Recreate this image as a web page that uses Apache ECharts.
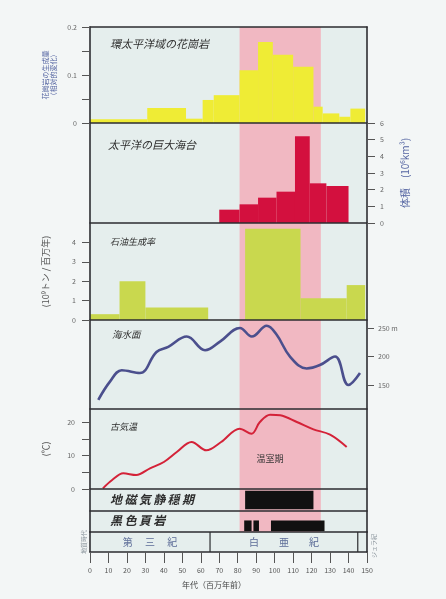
<!DOCTYPE html>
<html>
<head>
<meta charset="utf-8">
<script src="https://cdn.jsdelivr.net/npm/echarts@6/dist/echarts.min.js"></script>
<style>
  html, body { margin: 0; padding: 0; background: #f3f6f6; }
  #chart { width: 446px; height: 599px; }
</style>
</head>
<body>
<div id="chart"></div>
<script>
// ---- age axis (million years ago) ----
const ageMin = 0;
const ageMax = 150;
const ageStep = 10;

// greenhouse (warm) period
const warmStart = 81;
const warmEnd = 125;
const warmLabel = '温室期';

// circum-Pacific granite production (histogram)
const graniteStart = [0, 31, 52, 61, 67, 81, 91, 99, 110, 121, 126, 135, 141];
const graniteEnd   = [31, 52, 61, 67, 81, 91, 99, 110, 121, 126, 135, 141, 149];
const graniteValue = [0.008, 0.031, 0.009, 0.048, 0.058, 0.110, 0.169, 0.142, 0.117, 0.034, 0.020, 0.013, 0.030];

// Pacific oceanic plateaus, volume (10^6 km3)
const plateauStart = [70, 81, 91, 101, 111, 119, 128];
const plateauEnd   = [81, 91, 101, 111, 119, 128, 140];
const plateauValue = [0.8, 1.12, 1.52, 1.88, 5.2, 2.38, 2.22];

// oil generation rate (10^9 t / Myr)
const oilStart = [0, 16, 30, 84, 114, 139];
const oilEnd   = [16, 30, 64, 114, 139, 149];
const oilValue = [0.3, 2.0, 0.65, 4.7, 1.12, 1.8];

// sea level (m)
const seaAge   = [4.5, 10.8, 17.2, 27, 36, 42.4, 52.4, 62.3, 70.4, 81.2, 87.6, 95.7, 101.1, 108.3, 117.3, 124.5, 132.7, 139.9, 146.2];
const seaLevel = [124, 156, 176, 171, 208, 217, 235, 211, 226, 250, 235, 254, 238, 200, 179, 185, 200, 150, 171];

// paleotemperature (deg C)
const tempAge   = [7, 12, 18, 25, 32.5, 40, 47, 55, 63, 71, 81, 87.5, 92, 97.5, 103, 112, 121, 130, 139];
const tempValue = [0.2, 2.7, 4.7, 4.2, 6.2, 8.1, 11.1, 14.1, 11.6, 14.1, 18.1, 16.6, 20.1, 22.3, 22.1, 20.1, 17.9, 16.3, 12.6];

// magnetic quiet zone
const quietStart = [84];
const quietEnd   = [121];

// black shale occurrences
const shaleStart = [83.5, 88.5, 98];
const shaleEnd   = [87.5, 91.5, 127];

// geologic periods
const periodNames = ['第　 三　 紀', '白　　亜　　紀'];
const periodStart = [0, 65];
const periodEnd   = [65, 145];

// axis tick values
const graniteTicks = [0, 0.05, 0.1, 0.15, 0.2];
const graniteLabels = [0, 0.1, 0.2];
const plateauTicks = [0, 1, 2, 3, 4, 5, 6];
const oilTicks = [0, 1, 2, 3, 4];
const seaTicks = [150, 200, 250];
const tempTicks = [0, 5, 10, 15, 20];
const tempLabels = [0, 10, 20];

// ---- styling ----
const FONT = '"Noto Sans CJK JP", "Noto Sans", sans-serif';
const FRAME = '#2c2d31';
const PANEL_BG = '#e5eeed';
const BAND = '#f1b8c2';
const LABEL = '#666';
const BLUE = '#5565a2';

const chart = echarts.init(document.getElementById('chart'));

function zip3(a, b, c) { return a.map((v, i) => [v, b[i], c[i]]); }
function zip2(a, b) { return a.map((v, i) => [v, b[i]]); }

function histRender(color) {
  return function (params, api) {
    const p0 = api.coord([api.value(0), api.value(2)]);
    const p1 = api.coord([api.value(1), 0]);
    return { type: 'rect', shape: { x: p0[0], y: p0[1], width: p1[0] - p0[0], height: p1[1] - p0[1] }, style: { fill: color } };
  };
}
function spanRender(color, y0, y1) {
  return function (params, api) {
    const p0 = api.coord([api.value(0), y1]);
    const p1 = api.coord([api.value(1), y0]);
    return { type: 'rect', shape: { x: p0[0], y: p0[1], width: p1[0] - p0[0], height: p1[1] - p0[1] }, style: { fill: color } };
  };
}

const gridBase = { left: 90, right: 79, outerBoundsMode: 'none', containLabel: false };
function panelGrid(top, height) {
  return Object.assign({}, gridBase, { top, height, show: true, backgroundColor: PANEL_BG, borderWidth: 0 });
}

const grids = [
  Object.assign({}, gridBase, { top: 27, height: 505, show: false }), // band + outer frame
  panelGrid(27, 96),   // granite
  panelGrid(123, 100), // plateaus
  panelGrid(223, 97),  // oil
  panelGrid(320, 89),  // sea level
  panelGrid(409, 80),  // temperature
  panelGrid(489, 22),  // magnetic quiet zone
  panelGrid(511, 21),  // black shale
  panelGrid(532, 20)   // geologic periods
];

const frameLine = { show: true, onZero: false, lineStyle: { color: FRAME, width: 1.6 } };
const noLine = { show: false, onZero: false };

function xAx(gridIndex, extra) {
  return Object.assign({
    type: 'value', gridIndex, min: ageMin, max: ageMax, interval: ageStep, z: 5,
    axisLine: frameLine, axisTick: { show: false }, axisLabel: { show: false }, splitLine: { show: false }
  }, extra || {});
}

function yAx(gridIndex, extra) {
  return Object.assign({
    type: 'value', gridIndex, z: 5,
    axisLine: noLine,
    axisTick: { show: false }, axisLabel: { show: false }, splitLine: { show: false },
    nameMoveOverlap: false
  }, extra || {});
}

const tickStyle = { color: '#555', width: 1 };

const xAxes = [
  xAx(0, { position: 'top' }),
  xAx(1), xAx(2), xAx(3), xAx(4), xAx(5), xAx(6), xAx(7),
  xAx(8, {
    axisTick: { show: true, length: 11, lineStyle: { color: '#555', width: 1 } },
    axisLabel: { show: true, fontSize: 7, color: '#555', margin: 15 }
  })
];

const yAxes = [
  yAx(0, { min: 0, max: 1, position: 'left', axisLine: frameLine }),
  yAx(0, { min: 0, max: 1, position: 'right', axisLine: frameLine }),
  // granite
  yAx(1, {
    min: 0, max: 0.2, position: 'left',
    axisTick: { show: true, length: 8, lineStyle: tickStyle, customValues: graniteTicks },
    axisLabel: { show: true, fontSize: 7, color: LABEL, margin: 13, customValues: graniteLabels,
      formatter: v => (v === 0 ? '0' : v.toFixed(1)) },
    name: '花崗岩の生成量\n（相対的変化）', nameLocation: 'middle', nameRotate: 90, nameGap: 33,
    nameTextStyle: { color: BLUE, fontSize: 7, lineHeight: 8 }
  }),
  // plateaus
  yAx(2, {
    min: 0, max: 6, position: 'right',
    axisTick: { show: true, length: 8, lineStyle: tickStyle, customValues: plateauTicks },
    axisLabel: { show: true, fontSize: 7, color: LABEL, margin: 13, customValues: plateauTicks },
    name: '体積　(10⁶km³)', nameLocation: 'middle', nameRotate: 90, nameGap: 33,
    nameTextStyle: { color: BLUE, fontSize: 10 }
  }),
  // oil
  yAx(3, {
    min: 0, max: 5, position: 'left',
    axisTick: { show: true, length: 8, lineStyle: tickStyle, customValues: oilTicks },
    axisLabel: { show: true, fontSize: 7, color: LABEL, margin: 14, customValues: oilTicks },
    name: '(10⁹トン / 百万年)', nameLocation: 'middle', nameRotate: 90, nameGap: 40,
    nameTextStyle: { color: '#555', fontSize: 9 }
  }),
  // sea level
  yAx(4, {
    min: 108, max: 264, position: 'right',
    axisTick: { show: true, length: 7, lineStyle: tickStyle, customValues: seaTicks },
    axisLabel: { show: true, fontSize: 7, color: LABEL, margin: 11, customValues: seaTicks,
      formatter: v => (v === 250 ? '250 m' : String(v)) }
  }),
  // temperature
  yAx(5, {
    min: 0, max: 24, position: 'left',
    axisTick: { show: true, length: 8, lineStyle: tickStyle, customValues: tempTicks },
    axisLabel: { show: true, fontSize: 7, color: LABEL, margin: 15, customValues: tempLabels },
    name: '(℃)', nameLocation: 'middle', nameRotate: 90, nameGap: 40,
    nameTextStyle: { color: '#555', fontSize: 9 }
  }),
  yAx(6, { min: 0, max: 1, show: false }),
  yAx(7, { min: 0, max: 1, show: false }),
  yAx(8, { min: 0, max: 1, position: 'left', axisLine: frameLine }),
  yAx(8, { min: 0, max: 1, position: 'right', axisLine: frameLine })
];

const series = [
  { // greenhouse band
    type: 'custom', xAxisIndex: 0, yAxisIndex: 0, z: 1, silent: true,
    data: [[warmStart, warmEnd]],
    renderItem: spanRender(BAND, 0, 1)
  },
  {
    type: 'custom', name: '花崗岩', xAxisIndex: 1, yAxisIndex: 2, z: 2,
    encode: { x: [0, 1], y: 2 },
    data: zip3(graniteStart, graniteEnd, graniteValue),
    renderItem: histRender('#efec35')
  },
  {
    type: 'custom', name: '巨大海台', xAxisIndex: 2, yAxisIndex: 3, z: 2,
    encode: { x: [0, 1], y: 2 },
    data: zip3(plateauStart, plateauEnd, plateauValue),
    renderItem: histRender('#d3103e')
  },
  {
    type: 'custom', name: '石油', xAxisIndex: 3, yAxisIndex: 4, z: 2,
    encode: { x: [0, 1], y: 2 },
    data: zip3(oilStart, oilEnd, oilValue),
    renderItem: histRender('#c9d84e')
  },
  {
    type: 'line', name: '海水面', xAxisIndex: 4, yAxisIndex: 5, z: 3,
    data: zip2(seaAge, seaLevel), smooth: 0.4, showSymbol: false,
    lineStyle: { color: '#4b4f8d', width: 2.6 }
  },
  {
    type: 'line', name: '古気温', xAxisIndex: 5, yAxisIndex: 6, z: 3,
    data: zip2(tempAge, tempValue), smooth: 0.35, showSymbol: false,
    lineStyle: { color: '#d42238', width: 2 }
  },
  { // greenhouse label inside the temperature panel
    type: 'custom', xAxisIndex: 5, yAxisIndex: 6, z: 3, silent: true,
    data: [[97.5, 9]],
    renderItem: function (params, api) {
      const p = api.coord([api.value(0), api.value(1)]);
      return { type: 'text', style: { text: warmLabel, x: p[0], y: p[1], align: 'center', verticalAlign: 'middle', fill: '#333', font: '9px ' + FONT } };
    }
  },
  {
    type: 'custom', name: '地磁気静穏期', xAxisIndex: 6, yAxisIndex: 7, z: 2,
    encode: { x: [0, 1] },
    data: zip2(quietStart, quietEnd),
    renderItem: spanRender('#111', 0.08, 0.92)
  },
  {
    type: 'custom', name: '黒色頁岩', xAxisIndex: 7, yAxisIndex: 8, z: 2,
    encode: { x: [0, 1] },
    data: zip2(shaleStart, shaleEnd),
    renderItem: spanRender('#111', 0.04, 0.55)
  },
  { // geologic periods: names and boundaries
    type: 'custom', xAxisIndex: 8, yAxisIndex: 9, z: 3, silent: true,
    encode: { x: [0, 1] },
    data: zip2(periodStart, periodEnd),
    renderItem: function (params, api) {
      const s = api.value(0), e = api.value(1);
      const mid = api.coord([(s + e) / 2, 0.5]);
      const top = api.coord([e, 1]);
      const bot = api.coord([e, 0]);
      const children = [{
        type: 'text',
        style: { text: periodNames[params.dataIndex], x: mid[0], y: mid[1], align: 'center', verticalAlign: 'middle', fill: '#5d6d98', font: '10px ' + FONT }
      }];
      if (e < ageMax) {
        children.push({ type: 'line', shape: { x1: top[0], y1: top[1], x2: bot[0], y2: bot[1] }, style: { stroke: FRAME, lineWidth: 1.2 } });
      }
      return { type: 'group', children };
    }
  }
];

function title(text, left, top, size, weight) {
  return { type: 'text', left, top, z: 20, style: { text, fill: '#2e2e2e', font: 'italic ' + (weight || 'normal') + ' ' + size + 'px ' + FONT } };
}

const graphic = [
  title('環太平洋域の花崗岩', 110, 38, 11),
  title('太平洋の巨大海台', 108, 139, 11),
  title('石油生成率', 110, 237, 9),
  title('海水面', 112, 330, 9.5),
  title('古気温', 110, 422, 9),
  title('地\u2009磁\u2009気\u2009静\u2009穏\u2009期', 110, 493, 12, 'bold'),
  title('黒\u2009色\u2009頁\u2009岩', 110, 514, 12, 'bold'),
  { type: 'text', x: 84, y: 542, rotation: Math.PI / 2, z: 20,
    style: { text: '地質時代', fill: '#8a949c', font: '6px ' + FONT, align: 'center', verticalAlign: 'middle' } },
  { type: 'text', x: 374, y: 546, rotation: Math.PI / 2, z: 20,
    style: { text: 'ジュラ紀', fill: '#8a949c', font: '6px ' + FONT, align: 'center', verticalAlign: 'middle' } },
  { type: 'text', left: 182, top: 581, z: 20,
    style: { text: '年代（百万年前）', fill: '#444', font: '8px ' + FONT } }
];

chart.setOption({
  backgroundColor: '#f3f6f6',
  animation: false,
  textStyle: { fontFamily: FONT },
  grid: grids,
  xAxis: xAxes,
  yAxis: yAxes,
  series,
  graphic
});
</script>
</body>
</html>
